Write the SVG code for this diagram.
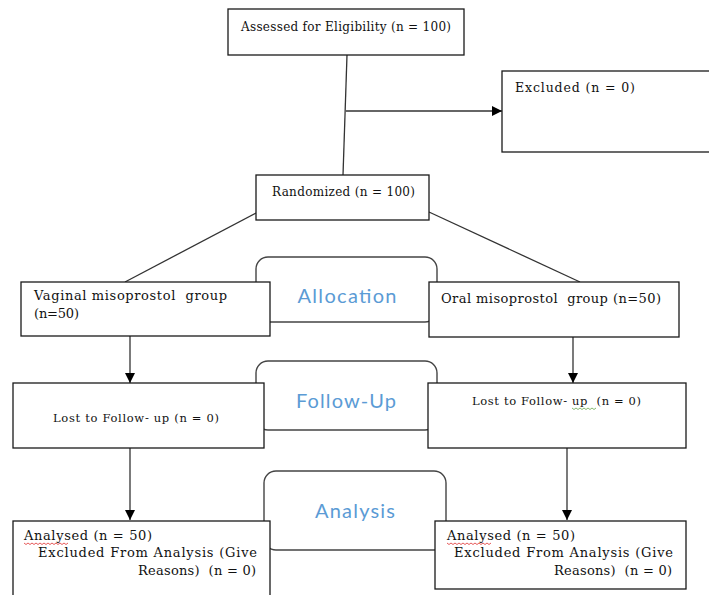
<svg xmlns="http://www.w3.org/2000/svg" width="709" height="595" viewBox="0 0 709 595">
<defs>
<marker id="ah" viewBox="0 0 10 10" refX="10" refY="5" markerWidth="10" markerHeight="10" markerUnits="userSpaceOnUse" orient="auto">
<path d="M0,0 L10,5 L0,10 Z" fill="#000"/>
</marker>
<style>
.box{fill:#fff;stroke:#1a1a1a;stroke-width:1.3}
.stage{fill:none;stroke:#444;stroke-width:1.4}
.t{font-family:"DejaVu Serif","Liberation Serif",serif;fill:#111;white-space:pre}
.lbl{font-family:Lato,"Open Sans","Liberation Sans",sans-serif;fill:#5B9BD5;font-size:20px;text-anchor:middle}
.ln{stroke:#333;stroke-width:1.3;fill:none}
.sq{fill:none;stroke-width:0.8}
</style>
</defs>
<rect width="709" height="595" fill="#fff"/>

<g id="stages">
<rect class="stage" x="256" y="257" width="181" height="65" rx="12"/>
<rect class="stage" x="256" y="361" width="181" height="69" rx="12"/>
<rect class="stage" x="264" y="471" width="182" height="79" rx="12"/>
</g>

<g id="connectors">
<line class="ln" x1="347" y1="55" x2="343" y2="175"/>
<line class="ln" x1="346" y1="111" x2="502" y2="111" marker-end="url(#ah)"/>
<line class="ln" x1="256" y1="213" x2="125" y2="282"/>
<line class="ln" x1="429" y1="212" x2="580" y2="282"/>
<line class="ln" x1="130" y1="336" x2="130" y2="383" marker-end="url(#ah)"/>
<line class="ln" x1="573" y1="337" x2="573" y2="383" marker-end="url(#ah)"/>
<line class="ln" x1="130" y1="448" x2="130" y2="520" marker-end="url(#ah)"/>
<line class="ln" x1="567" y1="448" x2="567" y2="520" marker-end="url(#ah)"/>
</g>

<g id="assessed">
<rect class="box" x="228" y="9" width="236" height="46"/>
<text class="t" x="241" y="31" font-size="12" textLength="210">Assessed for Eligibility (n = 100)</text>
</g>

<g id="excluded">
<rect class="box" x="502" y="71" width="210" height="81"/>
<text class="t" x="515" y="92" font-size="12.5" textLength="120">Excluded (n = 0)</text>
</g>

<g id="randomized">
<rect class="box" x="256" y="175" width="173" height="45"/>
<text class="t" x="272" y="196" font-size="12" textLength="143">Randomized (n = 100)</text>
</g>

<g id="allocation-label">
<text class="lbl" x="347" y="303" textLength="99">Allocation</text>
</g>

<g id="vaginal">
<rect class="box" x="21" y="282" width="249" height="54"/>
<text class="t" x="34" y="300" font-size="13" textLength="193">Vaginal misoprostol  group</text>
<text class="t" x="34" y="318" font-size="13" textLength="45">(n=50)</text>
</g>

<g id="oral">
<rect class="box" x="429" y="282" width="250" height="55"/>
<text class="t" x="441" y="303" font-size="13" textLength="220">Oral misoprostol  group (n=50)</text>
</g>

<g id="followup-label">
<text class="lbl" x="346" y="408" textLength="100">Follow-Up</text>
</g>

<g id="lost-left">
<rect class="box" x="13" y="383" width="251" height="65"/>
<text class="t" x="53" y="422" font-size="11.5" textLength="166">Lost to Follow- up (n = 0)</text>
</g>

<g id="lost-right">
<rect class="box" x="428" y="383" width="258" height="65"/>
<text class="t" x="472" y="405" font-size="11.5" textLength="169">Lost to Follow- up  (n = 0)</text>
<path class="sq" stroke="#6aa84f" d="M572,408 l2,1.5 l2,-1.5 l2,1.5 l2,-1.5 l2,1.5 l2,-1.5 l2,1.5 l2,-1.5 l2,1.5 l2,-1.5 l2,1.5 l2,-1.5"/>
</g>

<g id="analysis-label">
<text class="lbl" x="355" y="518" textLength="80">Analysis</text>
</g>

<g id="analysed-left">
<rect class="box" x="13" y="521" width="257" height="80"/>
<text class="t" x="24" y="540" font-size="13" textLength="128">Analysed (n = 50)</text>
<text class="t" x="257" y="557" font-size="13" text-anchor="end" textLength="219">Excluded From Analysis (Give</text>
<text class="t" x="256" y="575" font-size="13" text-anchor="end" textLength="118">Reasons)  (n = 0)</text>
<path class="sq" stroke="#e03030" d="M24,543 l2,1.5 l2,-1.5 l2,1.5 l2,-1.5 l2,1.5 l2,-1.5 l2,1.5 l2,-1.5 l2,1.5 l2,-1.5 l2,1.5 l2,-1.5 l2,1.5 l2,-1.5 l2,1.5 l2,-1.5 l2,1.5 l2,-1.5 l2,1.5 l2,-1.5 l2,1.5 l2,-1.5"/>
</g>

<g id="analysed-right">
<rect class="box" x="435" y="521" width="251" height="68"/>
<text class="t" x="447" y="540" font-size="13" textLength="128">Analysed (n = 50)</text>
<text class="t" x="673" y="557" font-size="13" text-anchor="end" textLength="219">Excluded From Analysis (Give</text>
<text class="t" x="672" y="575" font-size="13" text-anchor="end" textLength="118">Reasons)  (n = 0)</text>
<path class="sq" stroke="#e03030" d="M447,543 l2,1.5 l2,-1.5 l2,1.5 l2,-1.5 l2,1.5 l2,-1.5 l2,1.5 l2,-1.5 l2,1.5 l2,-1.5 l2,1.5 l2,-1.5 l2,1.5 l2,-1.5 l2,1.5 l2,-1.5 l2,1.5 l2,-1.5 l2,1.5 l2,-1.5 l2,1.5 l2,-1.5"/>
</g>
</svg>
